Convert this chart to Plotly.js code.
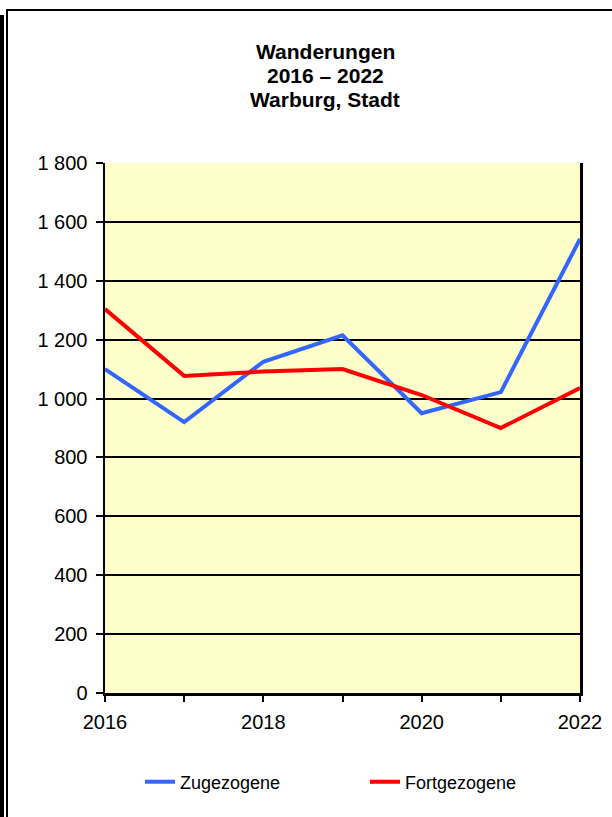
<!DOCTYPE html>
<html>
<head>
<meta charset="utf-8">
<script src="https://cdn.plot.ly/plotly-3.0.1.min.js"></script>
<style>
  html, body { margin: 0; padding: 0; background: #fff; }
  #wrap { position: relative; width: 612px; height: 817px; overflow: hidden; }
  #chart { position: absolute; left: 0; top: 0; width: 612px; height: 817px; }
  .frame { position: absolute; background: #000; pointer-events: none; }
</style>
</head>
<body>
<div id="wrap">
  <div id="chart"></div>
  <div class="frame" style="left:0px; top:15px; width:4px; height:802px;"></div>
  <div class="frame" style="left:6px; top:9px; width:2px; height:808px;"></div>
  <div class="frame" style="left:6px; top:9px; width:606px; height:2px;"></div>
</div>
<script>
// ---- data ----
const years = [2016, 2017, 2018, 2019, 2020, 2021, 2022];
const zugezogene = [1100, 920, 1125, 1215, 950, 1022, 1542];
const fortgezogene = [1304, 1077, 1092, 1100, 1012, 900, 1036];
const seriesNames = ['Zugezogene', 'Fortgezogene'];
const xTickLabels = ['2016', '', '2018', '', '2020', '', '2022'];
const yTicks = [0, 200, 400, 600, 800, 1000, 1200, 1400, 1600, 1800];
const yTickLabels = ['0', '200', '400', '600', '800', '1 000', '1 200', '1 400', '1 600', '1 800'];
const titleLines = ['Wanderungen', '2016 – 2022', 'Warburg, Stadt'];

const FONT = 'Liberation Sans, Arial, sans-serif';

const traces = [
  { x: years, y: zugezogene, name: seriesNames[0], type: 'scatter', mode: 'lines',
    line: { color: '#3366FF', width: 4 } },
  { x: years, y: fortgezogene, name: seriesNames[1], type: 'scatter', mode: 'lines',
    line: { color: '#FF0000', width: 4 } }
];

const titleY = [52, 76, 100];
const annotations = titleLines.map((t, i) => ({
  text: '<b>' + t + '</b>', xref: 'paper', yref: 'paper',
  x: (325 - 105) / 475, y: (693 - titleY[i]) / 530,
  xanchor: 'center', yanchor: 'middle', showarrow: false,
  font: { family: FONT, size: 21, color: '#000' }
}));

const layout = {
  width: 612, height: 817,
  margin: { l: 105, r: 32, t: 163, b: 124, pad: 0 },
  paper_bgcolor: '#ffffff',
  plot_bgcolor: '#FFFFCC',
  font: { family: FONT, size: 20, color: '#000' },
  showlegend: true,
  legend: {
    orientation: 'h', x: (140 - 105) / 475, xanchor: 'left',
    y: (693 - 782) / 530, yanchor: 'middle',
    font: { family: FONT, size: 18, color: '#000' },
    entrywidth: 180, entrywidthmode: 'pixels',
    bgcolor: 'rgba(0,0,0,0)'
  },
  xaxis: {
    range: [2016, 2022], tickvals: years, ticktext: xTickLabels,
    showgrid: false, zeroline: false,
    showline: true, linecolor: '#000', linewidth: 3,
    ticks: 'outside', ticklen: 6, tickwidth: 2, tickcolor: '#000',
    tickfont: { family: FONT, size: 20, color: '#000' },
    ticklabelstandoff: 3,
    fixedrange: true
  },
  yaxis: {
    range: [0, 1800], tickvals: yTicks, ticktext: yTickLabels,
    showgrid: true, gridcolor: '#000', gridwidth: 2,
    zeroline: false,
    showline: true, linecolor: '#000', linewidth: 2.5, mirror: true,
    ticks: 'outside', ticklen: 7, tickwidth: 2, tickcolor: '#000',
    tickfont: { family: FONT, size: 20, color: '#000' },
    ticklabelstandoff: 4,
    fixedrange: true
  },
  annotations: annotations
};

Plotly.newPlot('chart', traces, layout, { displayModeBar: false, staticPlot: true });
</script>
</body>
</html>
